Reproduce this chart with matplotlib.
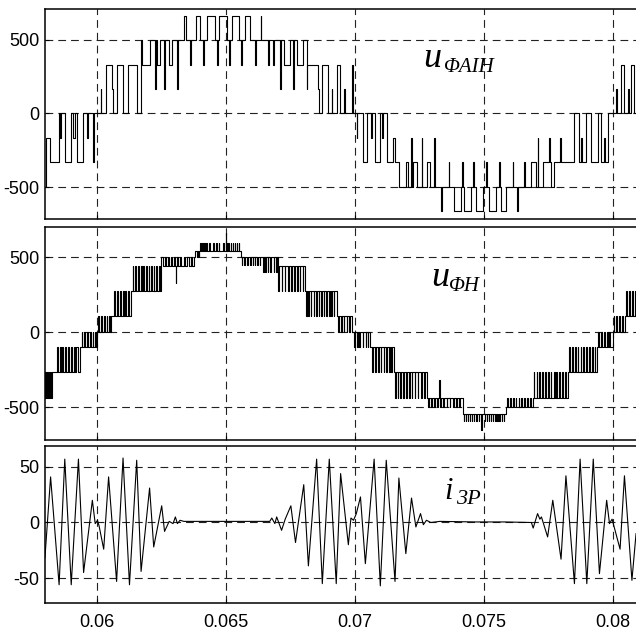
import matplotlib
matplotlib.use("Agg")
import matplotlib.pyplot as plt
import numpy as np

# ---------------- data (time in ms) ----------------
# Inverter output phase voltage u_ФАІН: switching instants and the level held after each
u_ai_t = [57.98, 58.04, 58.17, 58.53, 58.57, 58.61, 58.74, 58.98, 59.08, 59.14,
          59.21, 59.47, 59.62, 59.66, 59.84, 59.88, 60.14, 60.17, 60.34, 60.57,
          60.63, 60.76, 60.99, 61.22, 61.54, 61.69, 61.72, 61.76, 62.05, 62.25,
          62.28, 62.34, 62.43, 62.60, 62.63, 62.78, 62.92, 63.11, 63.14, 63.375,
          63.44, 63.61, 63.66, 63.83, 64.00, 64.12, 64.16, 64.28, 64.57, 64.64,
          64.68, 64.73, 65.03, 65.12, 65.16, 65.22, 65.51, 65.58, 65.62, 65.74,
          65.93, 66.13, 66.16, 66.35, 66.38, 66.65, 66.68, 66.84, 66.87, 67.10,
          67.13, 67.27, 67.49, 67.62, 67.65, 67.75, 68.00, 68.13, 68.16, 68.59,
          68.62, 68.71, 68.97, 69.10, 69.13, 69.30, 69.43, 69.60, 69.63, 69.88,
          69.92, 70.07, 70.10, 70.33, 70.46, 70.62, 70.65, 70.78, 70.98, 71.05,
          71.10, 71.24, 71.49, 71.56, 71.73, 71.99, 72.08, 72.17, 72.20, 72.27,
          72.40, 72.59, 72.62, 72.79, 72.92, 73.07, 73.10, 73.34, 73.40, 73.64,
          73.67, 73.86, 74.12, 74.15, 74.18, 74.25, 74.51, 74.60, 74.63, 74.70,
          74.96, 75.09, 75.12, 75.22, 75.48, 75.61, 75.64, 75.67, 75.87, 76.12,
          76.15, 76.30, 76.34, 76.57, 76.60, 76.84, 77.03, 77.09, 77.12, 77.29,
          77.55, 77.58, 77.61, 77.74, 77.97, 78.00, 78.52, 78.71, 78.78, 78.81,
          78.97, 79.16, 79.43, 79.55, 79.68, 79.71, 79.81, 80.13, 80.16, 80.32,
          80.45, 80.58, 80.62, 80.71, 80.84, 80.91]
u_ai_v = [-500, -165, -330, 0, -165, 0, -330, 0, -165, 0,
          -330, 0, -165, 0, -330, 0, 165, 0, 330, 165,
          0, 330, 0, 330, 0, 165, 500, 330, 500, 165,
          500, 330, 500, 165, 500, 330, 500, 165, 500, 660,
          500, 330, 500, 660, 500, 330, 500, 660, 500, 330,
          500, 660, 500, 330, 500, 660, 500, 330, 500, 660,
          500, 330, 500, 660, 500, 330, 500, 330, 500, 165,
          500, 330, 500, 165, 500, 330, 500, 165, 330, 165,
          0, 330, 0, 165, 0, 330, 0, 165, 0, 330,
          0, -165, 0, -330, 0, -165, 0, -330, 0, -165,
          0, -330, -165, -330, -500, -330, -500, -165, -500, -330,
          -500, -165, -500, -330, -500, -165, -500, -660, -500, -330,
          -500, -660, -500, -330, -500, -660, -500, -330, -500, -660,
          -500, -330, -500, -660, -500, -330, -500, -660, -500, -330,
          -500, -660, -500, -330, -500, -330, -500, -165, -500, -330,
          -165, -330, -500, -330, -165, -330, 0, -330, -165, -330,
          0, -330, 0, -330, -165, -330, 0, 165, 0, 330,
          0, 165, 0, 330, 0, 0]

# Network phase voltage u_ФН: (block start, base level, pulse level, pulse edges on/off)
u_h_blocks = [
    (57.98, -265, -440, [57.98, 58.03, 58.07, 58.09, 58.14, 58.16, 58.22, 58.24]),
    (58.30, -265, -100, [58.45, 58.48, 58.56, 58.60, 58.66, 58.69, 58.76, 58.80,
                         58.88, 58.91, 58.98, 59.03, 59.10, 59.13, 59.20, 59.26]),
    (59.34, -100, 0, [59.40, 59.42, 59.50, 59.54, 59.62, 59.64, 59.72, 59.76,
                      59.84, 59.86, 59.92, 59.97]),
    (60.00, 0, 110, [60.04, 60.08, 60.16, 60.18, 60.26, 60.30, 60.38, 60.40,
                     60.46, 60.50]),
    (60.56, 110, 275, [60.66, 60.69, 60.78, 60.80, 60.90, 60.94, 61.02, 61.04,
                       61.10, 61.14, 61.22, 61.25]),
    (61.30, 275, 440, [61.38, 61.40, 61.48, 61.51, 61.60, 61.62, 61.70, 61.73,
                       61.80, 61.82, 61.90, 61.93, 62.00, 62.03, 62.10, 62.13,
                       62.20, 62.23, 62.30, 62.33, 62.40, 62.44]),
    (62.48, 440, 500, [62.50, 62.56, 62.62, 62.66, 62.76, 62.79, 62.86, 62.90,
                       62.98, 63.02, 63.10, 63.14, 63.22, 63.26, 63.36, 63.40,
                       63.50, 63.55, 63.64, 63.70]),
    (63.78, 500, 545, [63.80, 63.86, 63.90, 63.94]),
    (63.96, 545, 595, [64.00, 64.02, 64.08, 64.10, 64.16, 64.18, 64.24, 64.26,
                       64.36, 64.38, 64.50, 64.52, 64.62, 64.64, 64.72, 64.74,
                       64.90, 64.92, 65.04, 65.06, 65.10, 65.12, 65.18, 65.20,
                       65.26, 65.28, 65.34, 65.36, 65.42, 65.44, 65.50, 65.52]),
    (65.60, 500, 450, [65.62, 65.64, 65.72, 65.74, 65.82, 65.84, 65.94, 65.96,
                       66.04, 66.06, 66.12, 66.14, 66.22, 66.24, 66.32, 66.34]),
    (66.40, 500, 400, [66.44, 66.46, 66.52, 66.55, 66.62, 66.64, 66.72, 66.76,
                       66.86, 66.88, 66.94, 66.97]),
    (67.02, 440, 275, [67.04, 67.07, 67.16, 67.19, 67.28, 67.31, 67.40, 67.43,
                       67.52, 67.55, 67.64, 67.67, 67.76, 67.79, 67.86, 67.89,
                       67.98, 68.01]),
    (68.08, 275, 110, [68.12, 68.14, 68.20, 68.23, 68.30, 68.32, 68.40, 68.43,
                       68.50, 68.53, 68.60, 68.62, 68.70, 68.73, 68.80, 68.82,
                       68.90, 68.93, 69.00, 69.02, 69.08, 69.11, 69.18, 69.21]),
    (69.30, 110, 0, [69.36, 69.38, 69.46, 69.49, 69.58, 69.60, 69.68, 69.71,
                     69.78, 69.81]),
    (69.90, 0, -100, [69.96, 70.00, 70.10, 70.12, 70.18, 70.21, 70.30, 70.33,
                      70.42, 70.44, 70.50, 70.53]),
    (70.60, -100, -265, [70.66, 70.69, 70.78, 70.81, 70.90, 70.93, 71.00, 71.03,
                         71.12, 71.14, 71.22, 71.25, 71.34, 71.36, 71.42, 71.45]),
    (71.52, -265, -440, [71.56, 71.59, 71.66, 71.69, 71.76, 71.79, 71.88, 71.91,
                         71.98, 72.01, 72.10, 72.13, 72.20, 72.23, 72.32, 72.35,
                         72.44, 72.47, 72.56, 72.59, 72.68, 72.71]),
    (72.80, -440, -500, [72.84, 72.87, 72.96, 72.98, 73.06, 73.10, 73.20, 73.22,
                         73.32, 73.36, 73.44, 73.47, 73.56, 73.59, 73.68, 73.71,
                         73.80, 73.83, 73.92, 73.95, 74.04, 74.07]),
    (74.18, -545, -590, [74.22, 74.24, 74.30, 74.32, 74.38, 74.40, 74.46, 74.48,
                         74.54, 74.56, 74.62, 74.64, 74.72, 74.74, 74.80, 74.82,
                         75.04, 75.06, 75.12, 75.14, 75.20, 75.22, 75.28, 75.30,
                         75.36, 75.38, 75.44, 75.46, 75.52, 75.54, 75.60, 75.62,
                         75.70, 75.72, 75.78, 75.80]),
    (75.88, -500, -440, [75.92, 75.94, 76.02, 76.05, 76.14, 76.16, 76.24, 76.27,
                         76.36, 76.38, 76.46, 76.49, 76.58, 76.60, 76.68, 76.71,
                         76.80, 76.83]),
    (76.90, -440, -265, [76.94, 76.97, 77.06, 77.08, 77.16, 77.19, 77.28, 77.31,
                         77.38, 77.41, 77.50, 77.53, 77.60, 77.63, 77.72, 77.75,
                         77.82, 77.85, 77.94, 77.97, 78.04, 78.07, 78.16, 78.19]),
    (78.28, -265, -100, [78.32, 78.35, 78.42, 78.45, 78.54, 78.57, 78.64, 78.67,
                         78.76, 78.79, 78.86, 78.89, 78.98, 79.01, 79.08, 79.11,
                         79.20, 79.23, 79.30, 79.33]),
    (79.40, -100, 0, [79.44, 79.47, 79.54, 79.57, 79.66, 79.69, 79.78, 79.81,
                      79.88, 79.91]),
    (80.00, 0, 110, [80.04, 80.07, 80.14, 80.17, 80.26, 80.29, 80.38, 80.40]),
    (80.48, 110, 275, [80.52, 80.55, 80.64, 80.67, 80.76, 80.79, 80.86, 80.89]),
]
# isolated single spikes on u_ФН: (on, off, level)
u_h_spikes = [(63.05, 63.07, 330), (64.99, 65.01, 660),
              (73.27, 73.29, -320), (74.89, 74.92, -650)]

# Filter current i_3P: turning points of the waveform
i3p_t = [57.98, 58.20, 58.53, 58.75, 59.00, 59.28, 59.48, 59.82, 59.93, 60.02,
         60.08, 60.26, 60.45, 60.76, 61.01, 61.26, 61.54, 61.71, 62.04, 62.20,
         62.51, 62.62, 62.80, 62.95, 63.04, 63.12, 63.22, 63.37, 64.50, 66.70,
         66.78, 66.90, 66.97, 67.16, 67.30, 67.52, 67.70, 68.02, 68.20, 68.52,
         68.74, 69.01, 69.28, 69.45, 69.75, 69.85, 69.95, 70.06, 70.22, 70.41,
         70.75, 70.99, 71.22, 71.56, 71.71, 71.98, 72.20, 72.37, 72.55, 72.66,
         72.78, 72.95, 73.30, 74.70, 75.80, 76.85, 76.92, 77.09, 77.18, 77.24,
         77.48, 77.68, 78.00, 78.19, 78.52, 78.74, 79.00, 79.25, 79.49, 79.77,
         79.88, 79.98, 80.29, 80.46, 80.75, 80.91]
i3p_v = [-32, 41, -56, 57, -56, 57, -45, 20, -1, 2,
         -3, -24, 41, -53, 58, -56, 56, -44, 31, -22,
         15, -8, 1, -1, 5, -1, 2, 1, 1, 1,
         4, -1, 5, -7, 3, 15, -18, 34, -39, 57,
         -55, 57, -55, 44, -20, 4, 2, 8, 23, -37,
         57, -57, 56, -53, 40, -28, 22, -4, 8, -2,
         2, 0, 1, 0.5, 0.5, 0, -5, 8, 3, 5,
         -13, 20, -33, 42, -55, 57, -55, 57, -46, 20,
         -1, 3, -24, 42, -52, -10]

x_ticks = [0.06, 0.065, 0.07, 0.075, 0.08]
x_tick_labels = ["0.06", "0.065", "0.07", "0.075", "0.08"]
u_ticks = [-500, 0, 500]
u_tick_labels = ["-500", "0", "500"]
i_ticks = [-50, 0, 50]
i_tick_labels = ["-50", "0", "50"]
x_end_ms = 80.91


def expand_blocks(blocks, spikes, t_end):
    ts, vs = [], []
    for start, base, pulse, edges in blocks:
        ts.append(start)
        vs.append(base)
        for k in range(0, len(edges), 2):
            ts += [edges[k], edges[k + 1]]
            vs += [pulse, base]
    for t0, t1, lev in spikes:
        i = int(np.searchsorted(ts, t0))
        prev = vs[i - 1]
        ts[i:i] = [t0, t1]
        vs[i:i] = [lev, prev]
    ts.append(t_end)
    vs.append(vs[-1])
    return np.array(ts), np.array(vs)


u_h_t, u_h_v = expand_blocks(u_h_blocks, u_h_spikes, x_end_ms)

# ---------------- figure ----------------
W, H = 636, 641
fig = plt.figure(figsize=(W / 100, H / 100), dpi=100)

tick_font = dict(family=["Liberation Sans", "DejaVu Sans"], size=13)
label_font = ["Liberation Serif", "DejaVu Serif"]

left = 45 / W
xlim = (0.057983, 0.080908)


def frac(y_px):
    return 1 - y_px / H


panels = [
    (frac(219), frac(9) - frac(219), (-714, 707), u_ticks, u_tick_labels),
    (frac(440), frac(227) - frac(440), (-718, 703), u_ticks, u_tick_labels),
    (frac(603), frac(446) - frac(603), (-72.4, 68.8), i_ticks, i_tick_labels),
]

axes = []
for bottom, height, ylim, yt, ytl in panels:
    ax = fig.add_axes([left, bottom, 1 - left, height])
    ax.set_xlim(*xlim)
    ax.set_ylim(*ylim)
    ax.set_xticks(x_ticks)
    ax.set_yticks(yt)
    ax.set_yticklabels(ytl, fontdict=tick_font)
    ax.grid(True, color="#222222", linestyle=(0, (7, 4.5)), linewidth=0.8)
    ax.tick_params(direction="in", length=3, width=0.8, pad=4, colors="black")
    for s in ("left", "top", "bottom"):
        ax.spines[s].set_linewidth(1.1)
    ax.spines["right"].set_visible(False)
    axes.append(ax)

for ax in axes[:2]:
    ax.set_xticklabels([])
axes[2].set_xticklabels(x_tick_labels, fontdict=tick_font)
axes[2].tick_params(axis="x", pad=8)

ms = 1e-3
axes[0].step(np.array(u_ai_t) * ms, u_ai_v, where="post", color="black", lw=0.8)
axes[1].step(u_h_t * ms, u_h_v, where="post", color="black", lw=0.8)
axes[2].plot(np.array(i3p_t) * ms, i3p_v, color="black", lw=0.8)

# signal names
axes[0].text(72.65 * ms, 315, "u", family=label_font, style="italic", size=26)
axes[0].text(73.46 * ms, 282, "ΦAIH", family=label_font, style="italic", size=15)
axes[1].text(72.96 * ms, 309, "u", family=label_font, style="italic", size=26)
axes[1].text(73.65 * ms, 275, "ΦH", family=label_font, style="italic", size=15)
axes[2].text(73.46 * ms, 20.9, "i", family=label_font, style="italic", size=22)
axes[2].text(73.93 * ms, 16.4, "3P", family=label_font, style="italic", size=16)

fig.savefig("out.png", dpi=100)
